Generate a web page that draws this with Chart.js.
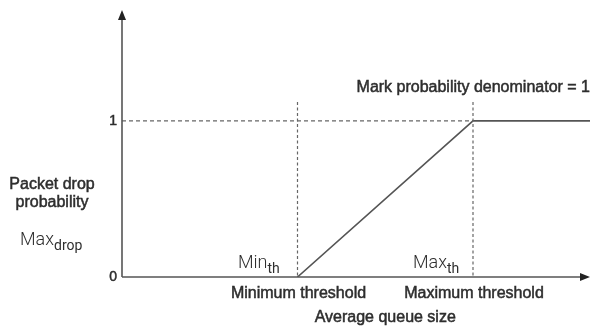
<!DOCTYPE html>
<html>
<head>
<meta charset="utf-8">
<script src="https://cdn.jsdelivr.net/npm/chart.js@4.4.0/dist/chart.umd.min.js"></script>
<style>
  html, body { margin: 0; padding: 0; background: #fff; }
  #wrap { width: 592px; height: 327px; position: relative; }
</style>
</head>
<body>
<div id="wrap"><canvas id="graphRed"></canvas></div>
<script>
// RED drop profile: queue size (x) vs packet drop probability (y)
const queueSize = [3, 6, 8];
const dropProb = [0, 1, 1];
const thresholds = [3, 6];
const thresholdNames = ["Minimum threshold", "Maximum threshold"];
const thresholdSymbols = ["Min", "Max"];
const yTicks = [0, 1];

const FONT = '"Liberation Sans", Arial, sans-serif';
const THIN = 'Roboto, "Liberation Sans", sans-serif';
const INK = '#2e2e2e';

const axesPlugin = {
    id: 'axes',
    afterDatasetsDraw(chart) {
        const ctx = chart.ctx;
        const xs = chart.scales.x, ys = chart.scales.y;
        const x0 = xs.getPixelForValue(0), y0 = ys.getPixelForValue(0);
        const top = chart.chartArea.top, right = chart.chartArea.right;
        ctx.save();

        // dashed guides
        ctx.strokeStyle = '#666';
        ctx.lineWidth = 1.2;
        ctx.setLineDash([4, 3]);
        const yOne = ys.getPixelForValue(1);
        ctx.beginPath();
        ctx.moveTo(x0, yOne);
        ctx.lineTo(xs.getPixelForValue(thresholds[1]), yOne);
        ctx.stroke();
        ctx.setLineDash([3, 2.5]);
        ctx.beginPath();
        thresholds.forEach(t => {
            const px = xs.getPixelForValue(t);
            ctx.moveTo(px, ys.getPixelForValue(1.12));
            ctx.lineTo(px, y0);
        });
        ctx.stroke();
        ctx.setLineDash([]);

        // axes with arrow heads
        ctx.strokeStyle = '#555';
        ctx.fillStyle = '#222';
        ctx.lineWidth = 1.6;
        ctx.beginPath();
        ctx.moveTo(x0, y0);
        ctx.lineTo(x0, top + 6);
        ctx.moveTo(x0, y0);
        ctx.lineTo(right - 6, y0);
        ctx.stroke();
        ctx.beginPath();
        ctx.moveTo(x0, top);
        ctx.lineTo(x0 - 4, top + 10);
        ctx.lineTo(x0 + 4, top + 10);
        ctx.closePath();
        ctx.fill();
        ctx.beginPath();
        ctx.moveTo(right, y0);
        ctx.lineTo(right - 10, y0 - 4);
        ctx.lineTo(right - 10, y0 + 4);
        ctx.closePath();
        ctx.fill();

        // labels: filled plus a hairline stroke for a medium weight
        ctx.fillStyle = INK;
        ctx.strokeStyle = INK;
        ctx.lineWidth = 0.5;
        const label = (txt, x, y) => {
            ctx.fillText(txt, x, y);
            ctx.strokeText(txt, x, y);
        };

        ctx.font = '14px ' + FONT;
        ctx.textAlign = 'right';
        ctx.textBaseline = 'middle';
        yTicks.forEach(v => label(String(v), x0 - 5, ys.getPixelForValue(v)));

        ctx.font = '16px ' + FONT;
        ctx.textAlign = 'center';
        thresholds.forEach((t, i) => {
            label(thresholdNames[i], xs.getPixelForValue(t) + 1, y0 + 17);
        });
        label('Average queue size', xs.getPixelForValue(4.5), y0 + 41);

        // y axis title
        label('Packet drop', 52, 185);
        label('probability', 52, 203);

        // annotation
        ctx.textAlign = 'right';
        label('Mark probability denominator = 1', right, 88);

        // subscripted symbols
        const sub = (main, s, x, y) => {
            ctx.textAlign = 'left';
            ctx.textBaseline = 'alphabetic';
            ctx.font = '300 18px ' + THIN;
            ctx.fillText(main, x, y);
            const w = ctx.measureText(main).width;
            ctx.font = '14px ' + THIN;
            ctx.fillText(s, x + w, y + 5);
        };
        sub('Max', 'drop', 20, 245);
        sub(thresholdSymbols[0], 'th', 238, 268);
        sub(thresholdSymbols[1], 'th', 413, 268);

        ctx.restore();
    }
};

new Chart(document.getElementById('graphRed').getContext('2d'), {
    type: 'line',
    data: {
        datasets: [{
            data: queueSize.map((q, i) => ({ x: q, y: dropProb[i] })),
            borderColor: '#555',
            borderWidth: 1.6,
            pointRadius: 0,
            fill: false,
            tension: 0
        }]
    },
    options: {
        responsive: true,
        maintainAspectRatio: false,
        animation: false,
        layout: { padding: { left: 122, right: 2, top: 10, bottom: 50 } },
        plugins: { legend: { display: false }, tooltip: { enabled: false } },
        scales: {
            x: { type: 'linear', min: 0, max: 8, display: false },
            y: { type: 'linear', min: 0, max: 1.71, display: false }
        }
    },
    plugins: [axesPlugin]
});
</script>
</body>
</html>
